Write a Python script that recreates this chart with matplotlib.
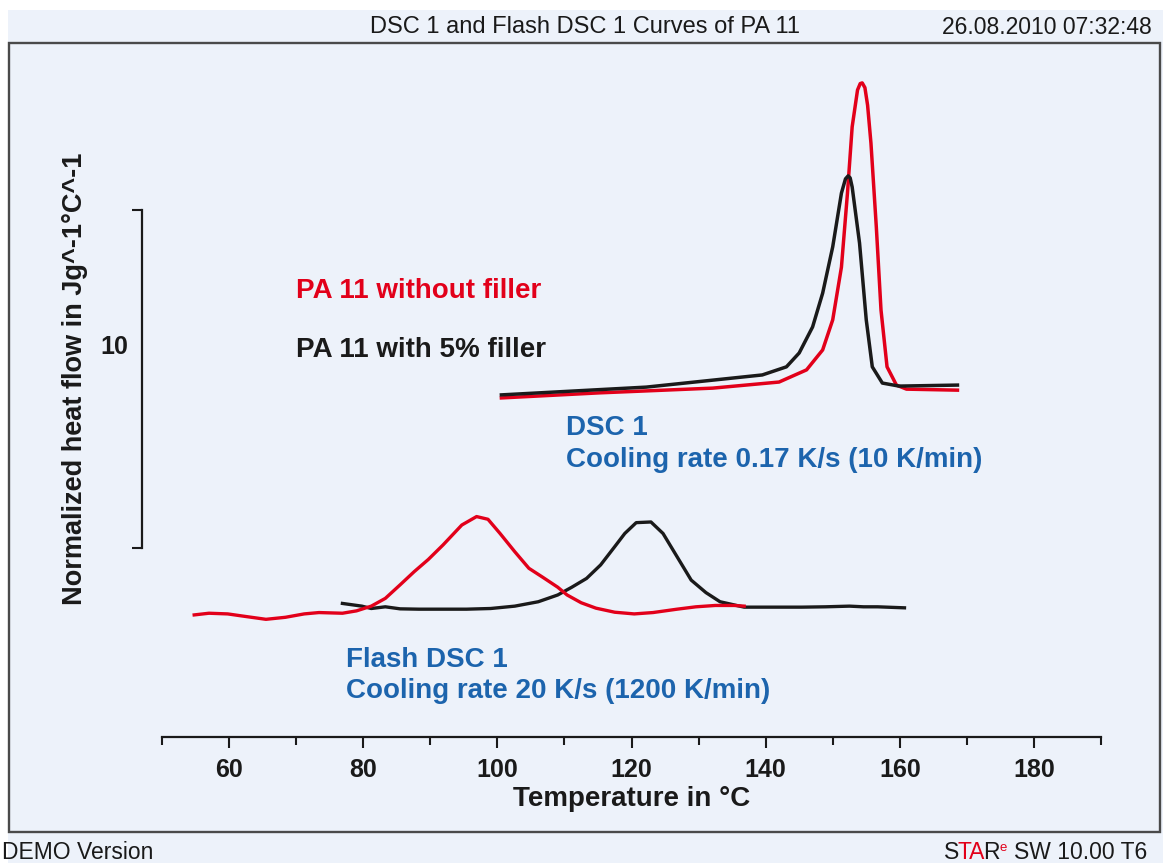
import numpy as np
import matplotlib
matplotlib.use("Agg")
import matplotlib.pyplot as plt
from matplotlib.patches import Rectangle

########## Data ##########
# DSC 1, 10 K/min
dsc_red_T = [100.6, 115.2, 132.1, 142.0, 146.1, 148.5, 150.0, 151.3, 152.2, 152.9, 153.7, 154.1,
             154.4, 154.8, 155.2, 155.7, 156.5, 157.2, 158.1, 159.5, 161.0, 168.6]
dsc_red_y = [4.44, 4.59, 4.73, 4.91, 5.27, 5.86, 6.75, 8.31, 10.50, 12.46, 13.55, 13.74,
             13.76, 13.62, 13.10, 11.98, 9.50, 7.04, 5.36, 4.82, 4.70, 4.67]

dsc_black_T = [100.6, 122.2, 139.5, 143.1, 145.0, 147.0, 148.5, 150.0, 151.3, 151.9, 152.3,
               152.6, 152.9, 154.0, 155.0, 155.9, 157.4, 159.9, 168.6]
dsc_black_y = [4.53, 4.76, 5.12, 5.36, 5.77, 6.54, 7.54, 8.91, 10.50, 10.92, 11.01,
               10.95, 10.68, 9.02, 6.75, 5.36, 4.88, 4.79, 4.82]

# Flash DSC 1, 1200 K/min
flash_red_T = [54.8, 57.0, 59.8, 61.9, 65.5, 68.4, 71.2, 73.4, 76.9, 79.0, 81.2, 83.3, 85.5,
               87.6, 89.7, 91.9, 94.7, 96.9, 98.6, 100.4, 102.6, 104.7, 106.8, 109.0, 110.4,
               112.5, 114.7, 117.5, 120.4, 123.2, 126.8, 129.6, 132.5, 135.3, 136.8]
flash_red_y = [-1.98, -1.93, -1.95, -2.01, -2.11, -2.05, -1.95, -1.91, -1.93, -1.86, -1.72,
               -1.49, -1.09, -0.70, -0.34, 0.09, 0.68, 0.93, 0.85, 0.43, -0.11, -0.60, -0.87,
               -1.16, -1.39, -1.62, -1.78, -1.90, -1.95, -1.91, -1.81, -1.74, -1.70, -1.70, -1.72]

flash_black_T = [76.9, 79.8, 81.2, 83.3, 85.5, 88.3, 95.4, 99.0, 102.6, 106.1, 109.0, 111.1,
                 113.3, 115.4, 117.5, 119.0, 120.7, 122.9, 124.7, 126.8, 128.9, 131.1, 133.2,
                 136.8, 141.8, 145.4, 148.9, 152.5, 154.6, 156.7, 160.7]
flash_black_y = [-1.64, -1.72, -1.79, -1.74, -1.80, -1.81, -1.81, -1.79, -1.72, -1.59, -1.39,
                 -1.16, -0.90, -0.50, 0.04, 0.43, 0.75, 0.77, 0.43, -0.26, -0.95, -1.32, -1.59,
                 -1.75, -1.75, -1.75, -1.74, -1.72, -1.74, -1.74, -1.77]

x_major = [60, 80, 100, 120, 140, 160, 180]
x_minor = [50, 70, 90, 110, 130, 150, 170, 190]

RED = "#e2001a"
BLACK = "#1a1a1a"
BLUE = "#1c64ad"
BG = "#edf2fa"

LBL = 20     # bold annotation size
HDR = 16.5   # header / footer size

plt.rcParams["font.family"] = ["Liberation Sans", "DejaVu Sans"]

fig = plt.figure(figsize=(11.63, 8.63), dpi=100)
fig.patch.set_facecolor("white")

# bluish page + frame
fig.patches.append(Rectangle((8 / 1163, 0), 1, 1 - 10 / 863, transform=fig.transFigure,
                             facecolor=BG, edgecolor="none", zorder=-10))
fig.patches.append(Rectangle((9 / 1163, 1 - 832 / 863), 1151 / 1163, 789 / 863,
                             transform=fig.transFigure, facecolor="none",
                             edgecolor="#4a4a4a", linewidth=1.7, zorder=-5))

ax = fig.add_axes([162 / 1163, 1 - 737 / 863, 939 / 1163, 677 / 863])
ax.set_facecolor("none")

ax.plot(dsc_red_T, dsc_red_y, color=RED, lw=2.5, solid_joinstyle="round")
ax.plot(dsc_black_T, dsc_black_y, color=BLACK, lw=2.5, solid_joinstyle="round")
ax.plot(flash_black_T, flash_black_y, color=BLACK, lw=2.4, solid_joinstyle="round")
ax.plot(flash_red_T, flash_red_y, color=RED, lw=2.4, solid_joinstyle="round")

ax.set_xlim(50, 190)
ax.set_ylim((548 - 737) / 33.8, (548 - 60) / 33.8)

for s in ["top", "right"]:
    ax.spines[s].set_visible(False)
ax.spines["bottom"].set_linewidth(1.6)
ax.spines["bottom"].set_color(BLACK)
ax.spines["left"].set_linewidth(1.6)
ax.spines["left"].set_color(BLACK)
ax.spines["left"].set_bounds(0, 10)
ax.spines["left"].set_position(("outward", 14.4))

ax.set_xticks(x_major)
ax.set_xticks(x_minor, minor=True)
ax.set_xticklabels([str(v) for v in x_major], fontsize=18, fontweight="bold", color=BLACK)
ax.tick_params(axis="x", which="major", length=8, width=1.5, direction="out", pad=7, colors=BLACK)
ax.tick_params(axis="x", which="minor", length=5.5, width=1.5, direction="out", colors=BLACK)
ax.set_yticks([0, 10])
ax.set_yticklabels([])
ax.tick_params(axis="y", length=7.2, width=1.5, direction="out", colors=BLACK)

ax.set_xlabel("Temperature in °C", fontsize=LBL, fontweight="bold", color=BLACK, labelpad=3)
ax.text(-0.0362, 5.95, "10", transform=ax.get_yaxis_transform(), ha="right", va="center",
        fontsize=18, fontweight="bold", color=BLACK)
ax.text(-0.0927, 5.0, "Normalized heat flow in Jg^-1°C^-1", transform=ax.get_yaxis_transform(),
        rotation=90, ha="center", va="center", fontsize=19.5, fontweight="bold", color=BLACK)

# annotations
ax.text(70.0, 7.60, "PA 11 without filler", color=RED, fontsize=LBL, fontweight="bold", va="center")
ax.text(70.0, 5.86, "PA 11 with 5% filler", color=BLACK, fontsize=LBL, fontweight="bold", va="center")
ax.text(110.2, 3.55, "DSC 1", color=BLUE, fontsize=LBL, fontweight="bold", va="center")
ax.text(110.2, 2.60, "Cooling rate 0.17 K/s (10 K/min)", color=BLUE, fontsize=LBL,
        fontweight="bold", va="center")
ax.text(77.4, -3.31, "Flash DSC 1", color=BLUE, fontsize=LBL, fontweight="bold", va="center")
ax.text(77.4, -4.23, "Cooling rate 20 K/s (1200 K/min)", color=BLUE, fontsize=LBL,
        fontweight="bold", va="center")

# header / footer
fig.text(585 / 1163, 1 - 27 / 863, "DSC 1 and Flash DSC 1 Curves of PA 11", ha="center",
         va="center", fontsize=17, color=BLACK)
fig.text(1152 / 1163, 1 - 27 / 863, "26.08.2010 07:32:48", ha="right", va="center",
         fontsize=HDR, color=BLACK)
fig.text(2 / 1163, 1 - 859 / 863, "DEMO Version", ha="left", va="baseline",
         fontsize=HDR, color=BLACK)

# STARe logo, pieces chained one after another
t = fig.text(944 / 1163, 1 - 859 / 863, "S", ha="left", va="baseline", fontsize=HDR, color=BLACK)
t = ax.annotate("TA", xy=(1, 0), xycoords=t, xytext=(-1.2, 0), textcoords="offset points",
                ha="left", va="bottom", fontsize=HDR, color=RED, annotation_clip=False)
t = ax.annotate("R", xy=(1, 0), xycoords=t, xytext=(-1.4, 0), textcoords="offset points",
                ha="left", va="bottom", fontsize=HDR, color=BLACK, annotation_clip=False)
ax.annotate("e", xy=(1, 0.42), xycoords=t, xytext=(0.2, 0), textcoords="offset points",
            ha="left", va="bottom", fontsize=HDR * 0.58, color=RED, annotation_clip=False)
ax.annotate("SW 10.00 T6", xy=(1, 0), xycoords=t, xytext=(10.5, 0),
            textcoords="offset points", ha="left", va="bottom", fontsize=HDR, color=BLACK,
            annotation_clip=False)

fig.savefig("out.png", dpi=100, facecolor=fig.get_facecolor())
